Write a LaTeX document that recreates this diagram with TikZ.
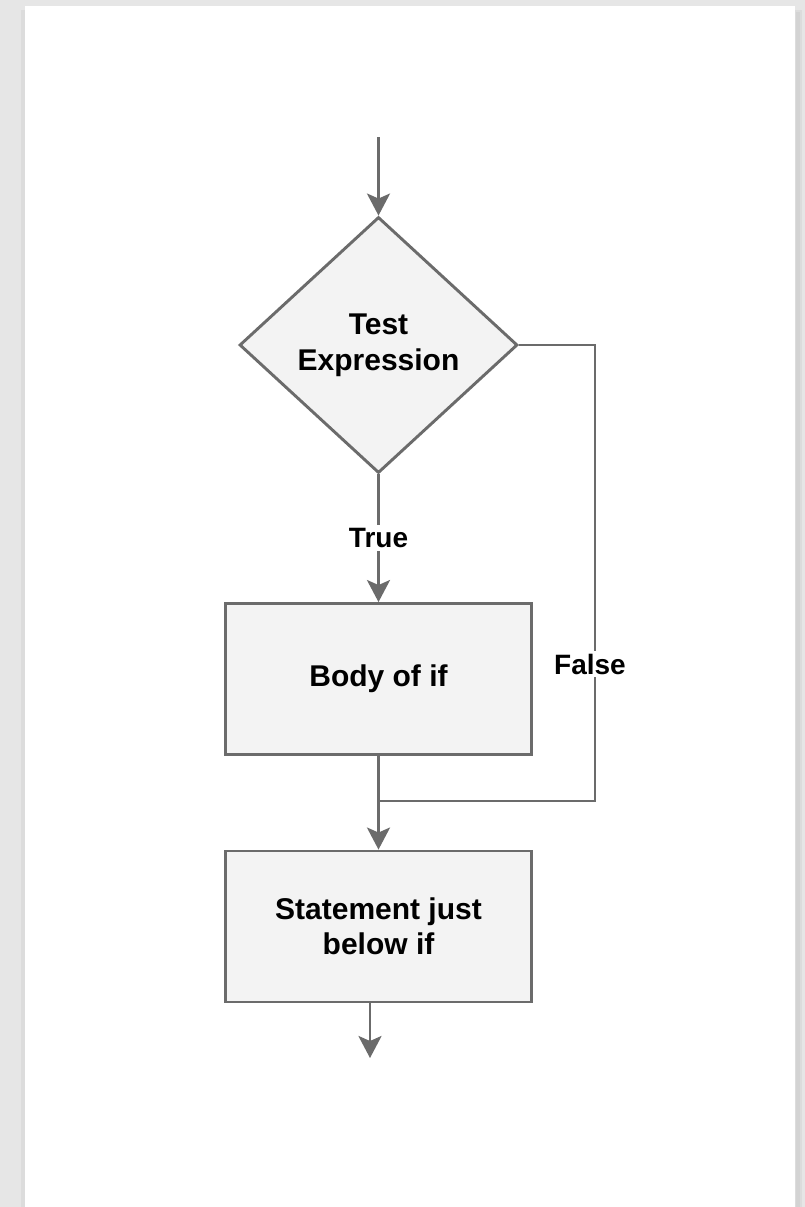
\documentclass[tikz,border=0pt]{standalone}
\usepackage{fontspec}
\setmainfont{Liberation Sans}
\usetikzlibrary{shapes.geometric,arrows.meta}

\definecolor{pagebg}{HTML}{E6E6E6}
\definecolor{shadeA}{HTML}{DCDCDC}
\definecolor{shadeB}{HTML}{D3D3D3}
\definecolor{edge}{HTML}{6B6B6B}
\definecolor{boxfill}{HTML}{F3F3F3}

\tikzset{
  flow/.style={draw=edge, line width=2.9pt},
  arr/.style={flow, -{Stealth[length=22pt, width=23pt, inset=5pt]}},
  stepbox/.style={draw=edge, line width=2.9pt, fill=boxfill, rectangle,
    minimum width=306pt, minimum height=151pt, inner sep=2pt,
    align=center, font=\fontsize{30}{35}\selectfont\bfseries},
  decision/.style={draw=edge, line width=2.9pt, fill=boxfill, diamond,
    minimum width=278pt, minimum height=256pt, inner sep=2pt,
    align=center, font=\fontsize{30}{36}\selectfont\bfseries},
  lbl/.style={fill=white, inner sep=3pt, font=\fontsize{28}{32}\selectfont\bfseries}
}

\begin{document}
\begin{tikzpicture}[x=1pt, y=-1pt]
  % canvas and page with a soft drop shadow
  \fill[pagebg] (0,0) rectangle (805,1207);
  \fill[shadeA] (21,10) rectangle (25,1207);
  \fill[shadeA] (794,10) rectangle (802,1207);
  \fill[shadeB] (796,12) rectangle (800,1207);
  \fill[white] (25,6) rectangle (795,1207);
  \useasboundingbox (0,0) rectangle (805,1207);

  % nodes
  \node[decision] (test) at (378.5,345) {Test\\Expression};
  \node[stepbox] (body) at (378.5,679) {Body of if};
  \node[stepbox] (stmt) at (378.5,926.5) {Statement just\\below if};

  \coordinate (start) at (378.5,137);
  \coordinate (fcol) at (595,801);
  \coordinate (join) at (378.5,801);
  \coordinate (finish) at (370,1058);

  % connectors
  \draw[arr] (start) -- (test.north);
  \draw[arr] (test.south) -- node[lbl] {True} (body.north);
  \draw[flow] (test.east) -- (test.east -| fcol) -- (fcol) -- (join);
  \node[lbl] (falselbl) at (590,664) {False};
  \draw[arr] (body.south) -- (stmt.north);
  \draw[arr] (stmt.south -| finish) -- (finish);
\end{tikzpicture}
\end{document}
